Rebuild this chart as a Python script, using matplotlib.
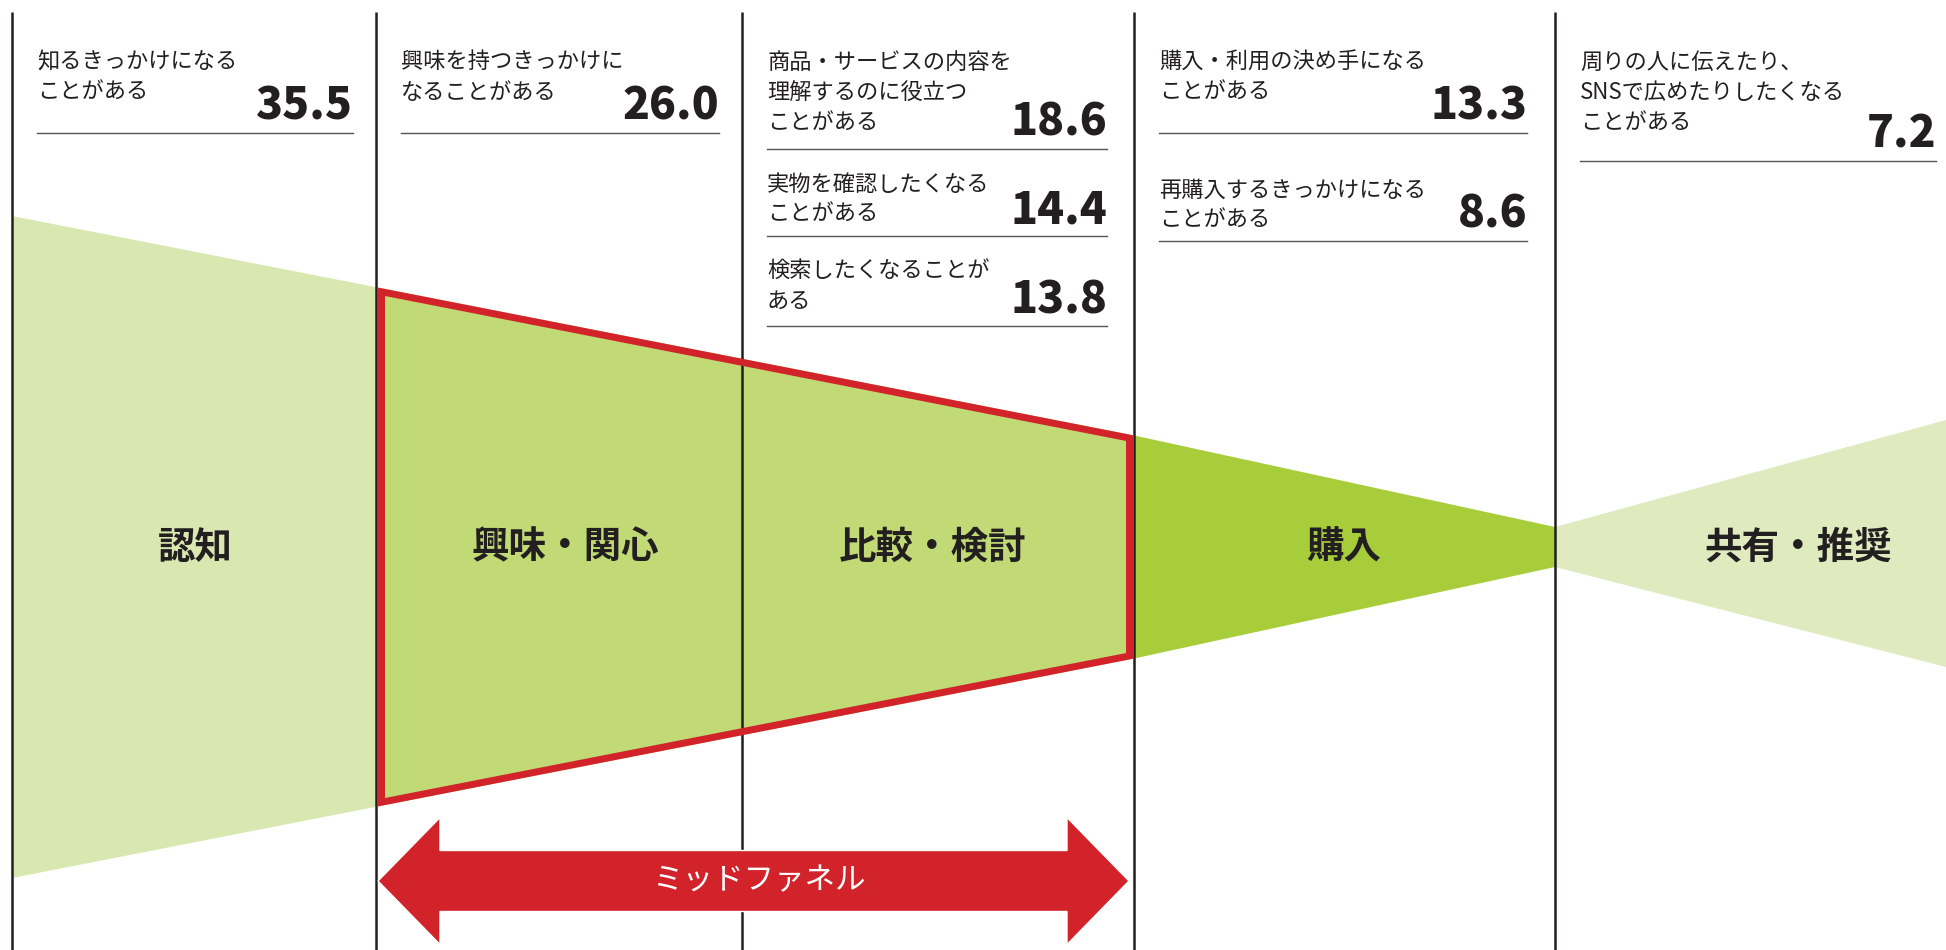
import matplotlib.pyplot as plt
from matplotlib.patches import Polygon

plt.rcParams["font.family"] = ["Noto Sans CJK JP", "DejaVu Sans"]

# stage names and survey answers (%)
stage_names = ["認知", "興味・関心", "比較・検討", "購入", "共有・推奨"]
item_stage = [0, 1, 2, 2, 2, 3, 3, 4]
item_labels = [
    "知るきっかけになる\nことがある",
    "興味を持つきっかけに\nなることがある",
    "商品・サービスの内容を\n理解するのに役立つ\nことがある",
    "実物を確認したくなる\nことがある",
    "検索したくなることが\nある",
    "購入・利用の決め手になる\nことがある",
    "再購入するきっかけになる\nことがある",
    "周りの人に伝えたり、\nSNSで広めたりしたくなる\nことがある",
]
item_values = [35.5, 26.0, 18.6, 14.4, 13.8, 13.3, 8.6, 7.2]
mid_funnel_label = "ミッドファネル"

# layout (pixel coordinates, y downwards)
W, H = 1946, 950
col_edges = [12, 376, 742, 1134, 1555]
col_right_pad = [23, 23, 27, 28, 10]
label_x = [195, 565, 933, 1344, 1798]
cy = 547
block_top = [62, 62, 62, 184, 271, 62, 190, 62]
block_sep = [133, 133, 149, 236, 326, 133, 241, 161]
line_gap = 30.5

LIGHT = "#d9e7b0"
LIGHT2 = "#dfeabe"
MID = "#c1da75"
DARK = "#a7cd3a"
RED = "#d2232a"
INK = "#231f20"


def cone_half(x):
    return 331 - 0.1956 * (x - col_edges[0])


fig = plt.figure(figsize=(W / 100, H / 100), dpi=100)
ax = fig.add_axes([0, 0, 1, 1])
ax.set_xlim(0, W)
ax.set_ylim(H, 0)
ax.axis("off")

# funnel pieces
x0, x1, x2, x3 = col_edges[0], col_edges[1], col_edges[3], col_edges[4]
ax.add_patch(Polygon([(x0, cy - cone_half(x0)), (x1, cy - cone_half(x1)),
                      (x1, cy + cone_half(x1)), (x0, cy + cone_half(x0))],
                     closed=True, facecolor=LIGHT, edgecolor="none", zorder=1))
ax.add_patch(Polygon([(x1 + 2, cy - cone_half(x1 + 2)), (x2 - 1, cy - cone_half(x2 - 1)),
                      (x2 - 1, cy + cone_half(x2 - 1)), (x1 + 2, cy + cone_half(x1 + 2))],
                     closed=True, facecolor=MID, edgecolor="none", zorder=1))
ax.add_patch(Polygon([(x2, cy - cone_half(x2)), (x3, cy - 20),
                      (x3, cy + 20), (x2, cy + cone_half(x2))],
                     closed=True, facecolor=DARK, edgecolor="none", zorder=1))
ax.add_patch(Polygon([(x3, cy - 20), (W, 420), (W, 667), (x3, cy + 20)],
                     closed=True, facecolor=LIGHT2, edgecolor="none", zorder=1))

# column dividers
for x in col_edges:
    ax.plot([x, x], [12, H], color=INK, lw=1.8, zorder=2, solid_capstyle="butt")

# mid funnel outline
ins = 3.5
lx, rx = x1 + 2 + ins, x2 - 1 - ins
ax.add_patch(Polygon([(lx, cy - cone_half(lx) + ins), (rx, cy - cone_half(rx) + ins),
                      (rx, cy + cone_half(rx) - ins), (lx, cy + cone_half(lx) - ins)],
                     closed=True, facecolor="none", edgecolor=RED, lw=5,
                     joinstyle="miter", zorder=3))

# stage labels
for name, x in zip(stage_names, label_x):
    ax.text(x, cy, name, ha="center", va="center", fontsize=27,
            fontweight="bold", color=INK, zorder=4)

# top answer blocks
for stage, label, value, top, sep in zip(item_stage, item_labels, item_values,
                                         block_top, block_sep):
    left = col_edges[stage] + 25
    if stage + 1 < len(col_edges):
        right = col_edges[stage + 1] - col_right_pad[stage]
    else:
        right = W - col_right_pad[stage]
    for i, line in enumerate(label.split("\n")):
        ax.text(left, top + i * line_gap, line, ha="left", va="center",
                fontsize=16, color=INK, zorder=4)
    ax.text(right, sep - 13, f"{value:.1f}", ha="right", va="baseline",
            fontsize=32, fontweight=900, color=INK, zorder=4)
    ax.plot([left, right], [sep, sep], color="#555555", lw=1.0, zorder=4)

# mid funnel arrow
ay = 881
tip_l, tip_r = 378, 1129
head_len, body_h, head_h = 62, 30.5, 63.5
arrow = [
    (tip_l, ay), (tip_l + head_len, ay - head_h), (tip_l + head_len, ay - body_h),
    (tip_r - head_len, ay - body_h), (tip_r - head_len, ay - head_h), (tip_r, ay),
    (tip_r - head_len, ay + head_h), (tip_r - head_len, ay + body_h),
    (tip_l + head_len, ay + body_h), (tip_l + head_len, ay + head_h),
]
ax.add_patch(Polygon(arrow, closed=True, facecolor=RED, edgecolor="white",
                     lw=1.0, zorder=5))
ax.text((tip_l + tip_r) / 2 + 5, ay, mid_funnel_label, ha="center", va="center",
        fontsize=22, color="white", zorder=6)

fig.savefig("out.png", dpi=100)
